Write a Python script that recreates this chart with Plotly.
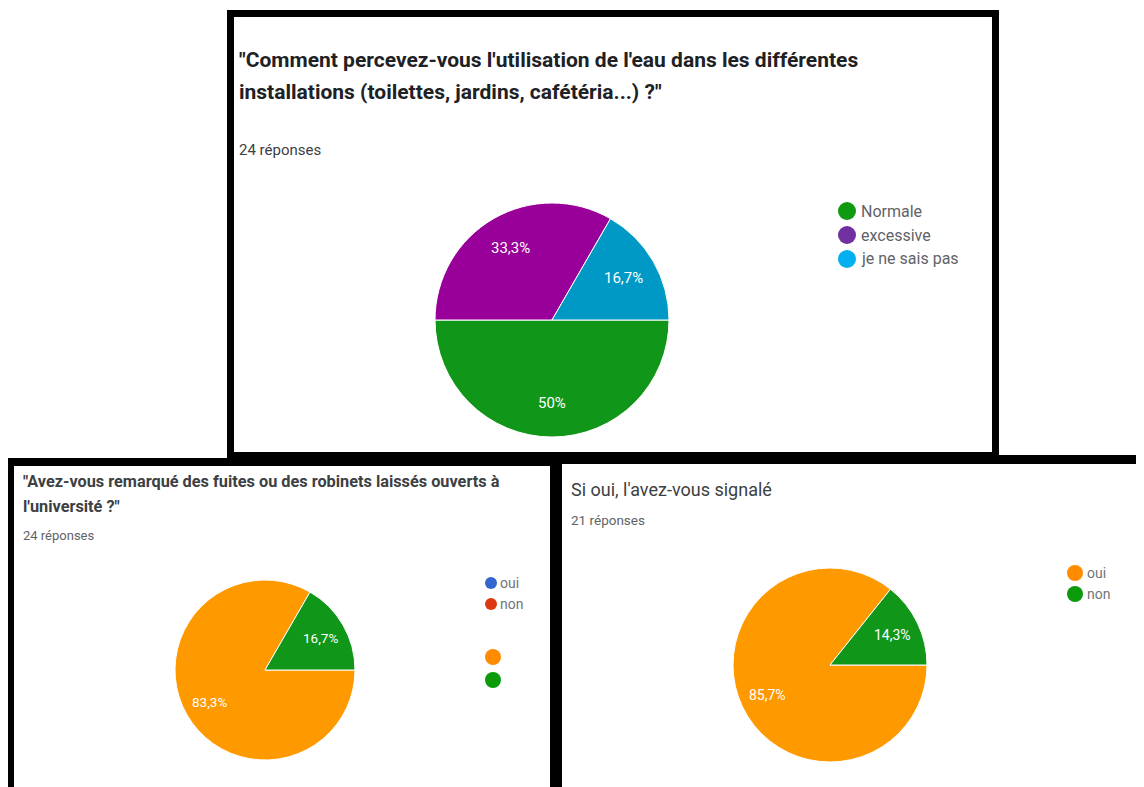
import math
import plotly.graph_objects as go

W, H = 1144, 787
OFF = 8  # page body margin
FW, FH = W - OFF, H - OFF

# ---- data ----
q1_title = ["\"Comment percevez-vous l'utilisation de l'eau dans les différentes",
            "installations (toilettes, jardins, cafétéria...) ?\""]
q1_count = "24 réponses"
q1_labels = ["Normale", "excessive", "je ne sais pas"]
q1_values = [12, 8, 4]
q1_slice_colors = ["#109618", "#990099", "#0099c6"]
q1_legend_colors = ["#0f9a0f", "#7030a0", "#00b0f0"]

q2_title = ["\"Avez-vous remarqué des fuites ou des robinets laissés ouverts à",
            "l'université ?\""]
q2_count = "24 réponses"
q2_labels = ["oui", "non"]
q2_values = [20, 4]
q2_slice_colors = ["#ff9900", "#109618"]
q2_legend_colors = ["#3366cc", "#dc3912"]
q2_extra_legend_colors = ["#ff8c00", "#0a9a0a"]

q3_title = ["Si oui, l'avez-vous signalé"]
q3_count = "21 réponses"
q3_labels = ["oui", "non"]
q3_values = [18, 3]
q3_slice_colors = ["#ff9900", "#109618"]
q3_legend_colors = ["#ff8c00", "#0a9a0a"]


def px(x):
    return (x - OFF) / FW


def py(y):
    return 1 - (y - OFF) / FH


fig = go.Figure()
shapes = []
annotations = []


def fmt_pct(p):
    s = f"{p * 100:.1f}"
    if s.endswith(".0"):
        s = s[:-2]
    return s.replace(".", ",") + "%"


def add_pie(labels, values, colors, cx, cy, r, fsize, frac=0.71):
    fig.add_trace(go.Pie(
        labels=labels, values=values, sort=False, direction="clockwise",
        rotation=90, marker=dict(colors=colors, line=dict(color="white", width=1)),
        textinfo="none",
        hoverinfo="label+percent", showlegend=False,
        domain=dict(x=[px(cx - r), px(cx + r)], y=[py(cy + r), py(cy - r)]),
    ))
    # percentage labels placed along each slice's mid-angle (derived from values)
    total = sum(values)
    start = 90.0
    for v in values:
        sweep = 360.0 * v / total
        mid = math.radians(start + sweep / 2)
        lx = cx + frac * r * math.sin(mid)
        ly = cy - frac * r * math.cos(mid)
        annotations.append(dict(xref="paper", yref="paper", x=px(lx), y=py(ly),
                                text=fmt_pct(v / total), showarrow=False,
                                xanchor="center", yanchor="middle",
                                font=dict(family="Roboto", size=fsize, color="white")))
        start += sweep


def rect(x0, y0, x1, y1, color):
    shapes.append(dict(type="rect", xref="paper", yref="paper",
                       x0=px(x0), x1=px(x1), y0=py(y1), y1=py(y0),
                       fillcolor=color, line=dict(width=0), layer="below"))


def dot(x, y, r, color):
    shapes.append(dict(type="circle", xref="paper", yref="paper",
                       x0=px(x - r), x1=px(x + r), y0=py(y + r), y1=py(y - r),
                       fillcolor=color, line=dict(width=0)))


def text(x, y, s, size, color, weight="normal"):
    annotations.append(dict(xref="paper", yref="paper", x=px(x), y=py(y),
                            text=s, showarrow=False, xanchor="left", yanchor="middle",
                            xshift=-1,
                            font=dict(family="Roboto", size=size, color=color, weight=weight)))


add_pie(q1_labels, q1_values, q1_slice_colors, 552, 320, 117, 15)
add_pie(q2_labels, q2_values, q2_slice_colors, 265, 670, 90, 13.5)
add_pie(q3_labels, q3_values, q3_slice_colors, 830, 665, 97, 14)

# panel frames (black border then white interior)
rect(227, 10, 999, 466, "black")
rect(234, 17, 992, 452, "white")
rect(7, 458, 556, 800, "black")
rect(14, 466, 550, 800, "white")
rect(556, 455, 1150, 800, "black")
rect(562, 464, 1150, 800, "white")

# panel 1 texts
text(238, 60, q1_title[0], 21, "#202124", "bold")
text(238, 92, q1_title[1], 21, "#202124", "bold")
text(238, 150, q1_count, 15, "#3c4043")
for i, (lab, c) in enumerate(zip(q1_labels, q1_legend_colors)):
    dot(847, 211 + 24 * i, 9, c)
    text(860, 211 + 24 * i, lab, 16, "#5f6368")

# panel 2 texts
text(22, 481, q2_title[0], 16.3, "#3c4043", "bold")
text(22, 507, q2_title[1], 16.3, "#3c4043", "bold")
text(22, 535, q2_count, 13, "#5f6368")
for i, (lab, c) in enumerate(zip(q2_labels, q2_legend_colors)):
    dot(491, 583 + 21 * i, 6, c)
    text(499, 583 + 21 * i, lab, 14, "#70757a")
for i, c in enumerate(q2_extra_legend_colors):
    dot(493, 657 + 23 * i, 8, c)

# panel 3 texts
text(570, 489, q3_title[0], 18, "#3c4043")
text(570, 520, q3_count, 13.5, "#5f6368")
for i, (lab, c) in enumerate(zip(q3_labels, q3_legend_colors)):
    dot(1075, 573 + 21 * i, 8, c)
    text(1086, 573 + 21 * i, lab, 14, "#70757a")

fig.update_layout(
    width=FW, height=FH, margin=dict(l=0, r=0, t=0, b=0),
    paper_bgcolor="white", plot_bgcolor="white",
    shapes=shapes, annotations=annotations,
    showlegend=False,
)

fig.write_html("out.html")
